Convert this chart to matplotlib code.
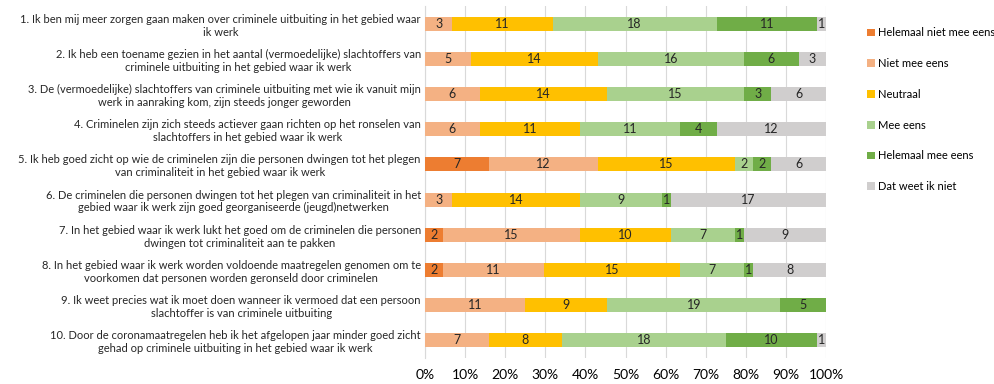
import numpy as np
import matplotlib.pyplot as plt

plt.rcParams['font.family'] = ['Lato', 'DejaVu Sans']

statements = [
    "1. Ik ben mij meer zorgen gaan maken over criminele uitbuiting in het gebied waar\nik werk",
    "2. Ik heb een toename gezien in het aantal (vermoedelijke) slachtoffers van\ncriminele uitbuiting in het gebied waar ik werk",
    "3. De (vermoedelijke) slachtoffers van criminele uitbuiting met wie ik vanuit mijn\nwerk in aanraking kom, zijn steeds jonger geworden",
    "4. Criminelen zijn zich steeds actiever gaan richten op het ronselen van\nslachtoffers in het gebied waar ik werk",
    "5. Ik heb goed zicht op wie de criminelen zijn die personen dwingen tot het plegen\nvan criminaliteit in het gebied waar ik werk",
    "6. De criminelen die personen dwingen tot het plegen van criminaliteit in het\ngebied waar ik werk zijn goed georganiseerde (jeugd)netwerken",
    "7. In het gebied waar ik werk lukt het goed om de criminelen die personen\ndwingen tot criminaliteit aan te pakken",
    "8. In het gebied waar ik werk worden voldoende maatregelen genomen om te\nvoorkomen dat personen worden geronseld door criminelen",
    "9. Ik weet precies wat ik moet doen wanneer ik vermoed dat een persoon\nslachtoffer is van criminele uitbuiting",
    "10. Door de coronamaatregelen heb ik het afgelopen jaar minder goed zicht\ngehad op criminele uitbuiting in het gebied waar ik werk",
]

categories = ["Helemaal niet mee eens", "Niet mee eens", "Neutraal",
              "Mee eens", "Helemaal mee eens", "Dat weet ik niet"]

helemaal_niet = [0, 0, 0, 0, 7, 0, 2, 2, 0, 0]
niet_eens     = [3, 5, 6, 6, 12, 3, 15, 11, 11, 7]
neutraal      = [11, 14, 14, 11, 15, 14, 10, 15, 9, 8]
mee_eens      = [18, 16, 15, 11, 2, 9, 7, 7, 19, 18]
helemaal_mee  = [11, 6, 3, 4, 2, 1, 1, 1, 5, 10]
weet_niet     = [1, 3, 6, 12, 6, 17, 9, 8, 0, 1]

colors = ['#ED7D31', '#F4B183', '#FFC000', '#A9D18E', '#70AD47', '#D0CECE']

counts = np.array([helemaal_niet, niet_eens, neutraal, mee_eens, helemaal_mee, weet_niet], dtype=float)
pct = counts / counts.sum(axis=0) * 100

fig = plt.figure(figsize=(9.94, 3.84), dpi=100)
ax = fig.add_axes([0.4276, 0.068, 0.4034, 0.916])

y = np.arange(len(statements))
left = np.zeros(len(statements))
for i, cat in enumerate(categories):
    bars = ax.barh(y, pct[i], left=left, height=0.4, color=colors[i], label=cat, zorder=3)
    for j, b in enumerate(bars):
        if counts[i, j] > 0:
            ax.text(left[j] + pct[i, j] / 2, y[j], f"{int(counts[i, j])}",
                    ha='center', va='center', fontsize=9, color='#262626', zorder=4)
    left += pct[i]

ax.set_xlim(0, 100)
ax.set_ylim(len(statements) - 0.5, -0.5)
ax.set_xticks(np.arange(0, 101, 10))
ax.set_xticklabels([f"{v}%" for v in range(0, 101, 10)], fontsize=10)
ax.set_yticks(y)
ax.set_yticklabels(statements, fontsize=8.0, multialignment='center', color='#262626')
ax.tick_params(length=0, pad=3)
ax.tick_params(axis='x', pad=8)
ax.grid(axis='x', color='#D9D9D9', linewidth=0.8, zorder=0)
for s in ['top', 'right', 'bottom']:
    ax.spines[s].set_visible(False)
ax.spines['left'].set_color('#D9D9D9')

fig.legend(loc='upper left', bbox_to_anchor=(0.862, 0.955), frameon=False,
           fontsize=8, handlelength=0.7, handleheight=0.7, handletextpad=0.3,
           labelspacing=1.78)

fig.savefig('out.png', dpi=100)
